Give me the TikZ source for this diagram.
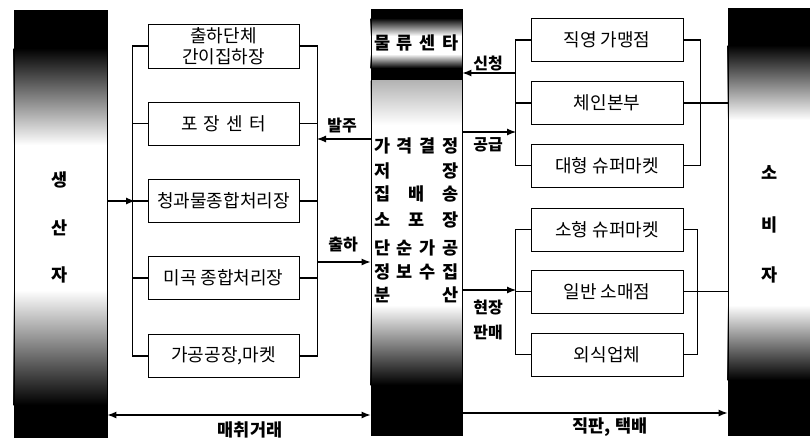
\documentclass[tikz,border=0pt]{standalone}
\usepackage{fontspec}
\setmainfont{Noto Sans CJK KR}
\usetikzlibrary{calc,arrows.meta,backgrounds}
\newcommand{\spreadline}[1]{\makebox[85pt]{#1}}

\tikzset{
  box/.style={draw, line width=0.9pt, minimum width=151pt, minimum height=43pt,
    inner sep=0pt, font=\fontsize{18}{21}\selectfont, align=center},
  bar/.style={draw, line width=0.9pt, inner sep=0pt},
  lab/.style={font=\fontsize{16}{25}\selectfont\bfseries, align=center, inner sep=0pt},
  bigl/.style={font=\fontsize{17.5}{20}\selectfont\bfseries, inner sep=0pt},
  link/.style={line width=1.1pt},
  >={Latex[length=9pt,width=7pt]}
}

\begin{document}
\begin{tikzpicture}[x=1pt, y=-1pt]
\useasboundingbox (0,0) rectangle (810,439);
% three bars
\node[bar, minimum width=93pt, minimum height=427pt] at (60.5, 223.5) (prod) {};
\node[bar, minimum width=91pt, minimum height=426pt] at (416.5, 222)  (ctr)  {};
\node[bar, minimum width=90pt, minimum height=427pt] at (773, 221.5)  (cons) {};
\begin{scope}[on background layer]
\fill[black] (prod.north west) rectangle (prod.east |- 0,48);
\shade[top color=black, bottom color=white] (prod.west |- 0,48) rectangle (prod.east |- 0,145);
\shade[top color=white, bottom color=black] (prod.west |- 0,290) rectangle (prod.east |- 0,405);
\fill[black] (prod.west |- 0,405) rectangle (prod.south east);
\fill[black] (ctr.north west) rectangle (ctr.east |- 0,18);
\shade[top color=black, bottom color=white] (ctr.west |- 0,18) rectangle (ctr.east |- 0,36);
\shade[top color=white, bottom color=black] (ctr.west |- 0,54) rectangle (ctr.east |- 0,68);
\fill[black] (ctr.west |- 0,68) rectangle (ctr.east |- 0,80);
\shade[top color=gray!60, bottom color=white] (ctr.west |- 0,80) rectangle (ctr.east |- 0,125);
\shade[top color=white, bottom color=black] (ctr.west |- 0,305) rectangle (ctr.east |- 0,385);
\fill[black] (ctr.west |- 0,385) rectangle (ctr.south east);
\fill[black] (cons.north west) rectangle (cons.east |- 0,45);
\shade[top color=black, bottom color=white] (cons.west |- 0,45) rectangle (cons.east |- 0,120);
\shade[top color=white, bottom color=black] (cons.west |- 0,305) rectangle (cons.east |- 0,380);
\fill[black] (cons.west |- 0,380) rectangle (cons.south east);
\end{scope}

\node[bigl] at (60, 180) (p1) {생};
\node[bigl] at (60, 228) (p2) {산};
\node[bigl] at (60, 275) (p3) {자};
\node[bigl] at (770, 173) (s1) {소};
\node[bigl] at (770, 225) (s2) {비};
\node[bigl] at (770, 275) (s3) {자};

% logistics center
\node[bigl] at (416.5, 43) (ctitle) {\spreadline{물\hfill 류\hfill 센\hfill 타}};
\node[bigl] at (416.5, 146) (c1) {\spreadline{가\hfill 격\hfill 결\hfill 정}};
\node[bigl] at (416.5, 171) (c2) {\spreadline{저\hfill 장}};
\node[bigl] at (416.5, 194) (c3) {\spreadline{집\hfill 배\hfill 송}};
\node[bigl] at (416.5, 220) (c4) {\spreadline{소\hfill 포\hfill 장}};
\node[bigl] at (416.5, 248) (c5) {\spreadline{단\hfill 순\hfill 가\hfill 공}};
\node[bigl] at (416.5, 272) (c6) {\spreadline{정\hfill 보\hfill 수\hfill 집}};
\node[bigl] at (416.5, 295) (c7) {\spreadline{분\hfill 산}};

% producer side
\node[box, minimum height=44pt] at (223.5, 46) (chul) {출하단체\\간이집하장};
\node[box] at (223.5, 123.5) (pojang) {\makebox[85pt]{포\hfill 장\hfill 센\hfill 터}};
\node[box] at (223.5, 201)   (cheong) {청과물종합처리장};
\node[box] at (223.5, 278)   (migok)  {미곡 종합처리장};
\node[box] at (223.5, 356)   (gagong) {가공공장,마켓};
\draw[link] (chul.west) -- ++(-15,0) |- (gagong.west);
\draw[link] (pojang.west) -- ++(-15,0);
\draw[link] (cheong.west) -- ++(-15,0);
\draw[link] (migok.west) -- ++(-15,0);
\draw[link] (chul.east) -- ++(18,0) |- (gagong.east);
\draw[link] (pojang.east) -- ++(18,0);
\draw[link] (cheong.east) -- ++(18,0);
\draw[link] (migok.east) -- ++(18,0);
\coordinate (pbus) at (135, 201);
\draw[link, ->] (prod.east |- pbus) -- (pbus);

% center arrows
\coordinate (ord) at (317, 139);
\coordinate (shp) at (317, 262);
\draw[link, ->] (ctr.west |- ord) -- (ord);
\draw[link, ->] (shp) -- (ctr.west |- shp);
\node[lab] at (342, 126) (ordl) {발주};
\node[lab] at (343, 245) (shpl) {출하};

\coordinate (req) at (516, 73);
\coordinate (sup) at (516, 132);
\coordinate (fld) at (516, 290);
\draw[link, ->] (req) -- (ctr.east |- req);
\draw[link, ->] (ctr.east |- sup) -- (sup);
\draw[link, ->] (ctr.east |- fld) -- (fld);
\node[lab] at (488, 63)  (reql) {신청};
\node[lab] at (488, 145) (supl) {공급};
\node[lab] at (488, 320) (fldl) {현장\\판매};

% consumer side
\node[box, minimum width=152pt] at (607, 40)    (jikyoung) {직영 가맹점};
\node[box, minimum width=152pt] at (607, 103)   (chain)    {체인본부};
\node[box, minimum width=152pt] at (607, 165.5) (daehyung) {대형 슈퍼마켓};
\node[box, minimum width=152pt] at (607, 229.5) (sohyung)  {소형 슈퍼마켓};
\node[box, minimum width=152pt] at (607, 291.5) (ilban)    {일반 소매점};
\node[box, minimum width=152pt] at (607, 354.5) (oesik)    {외식업체};
\draw[link] (jikyoung.west) -- ++(-15,0) |- (daehyung.west);
\draw[link] (chain.west) -- ++(-15,0);
\draw[link] (jikyoung.east) -- ++(17,0) |- (daehyung.east);
\draw[link] (chain.east) -- (cons.west |- chain.east);
\draw[link] (sohyung.west) -- ++(-15,0) |- (oesik.west);
\draw[link] (ilban.west) -- ++(-15,0);
\draw[link] (sohyung.east) -- ++(14,0) |- (oesik.east);
\draw[link] (ilban.east) -- (cons.west |- ilban.east);

% bottom trade lines
\coordinate (trade) at (240, 415);
\coordinate (direct) at (600, 413);
\draw[link, <->] (prod.east |- trade) -- (ctr.west |- trade);
\draw[link, ->] (ctr.east |- direct) -- (cons.west |- direct);
\node[bigl] at (250, 430) (tradel) {매취거래};
\node[bigl] at (610, 427) (directl) {직판, 택배};
\end{tikzpicture}
\end{document}
